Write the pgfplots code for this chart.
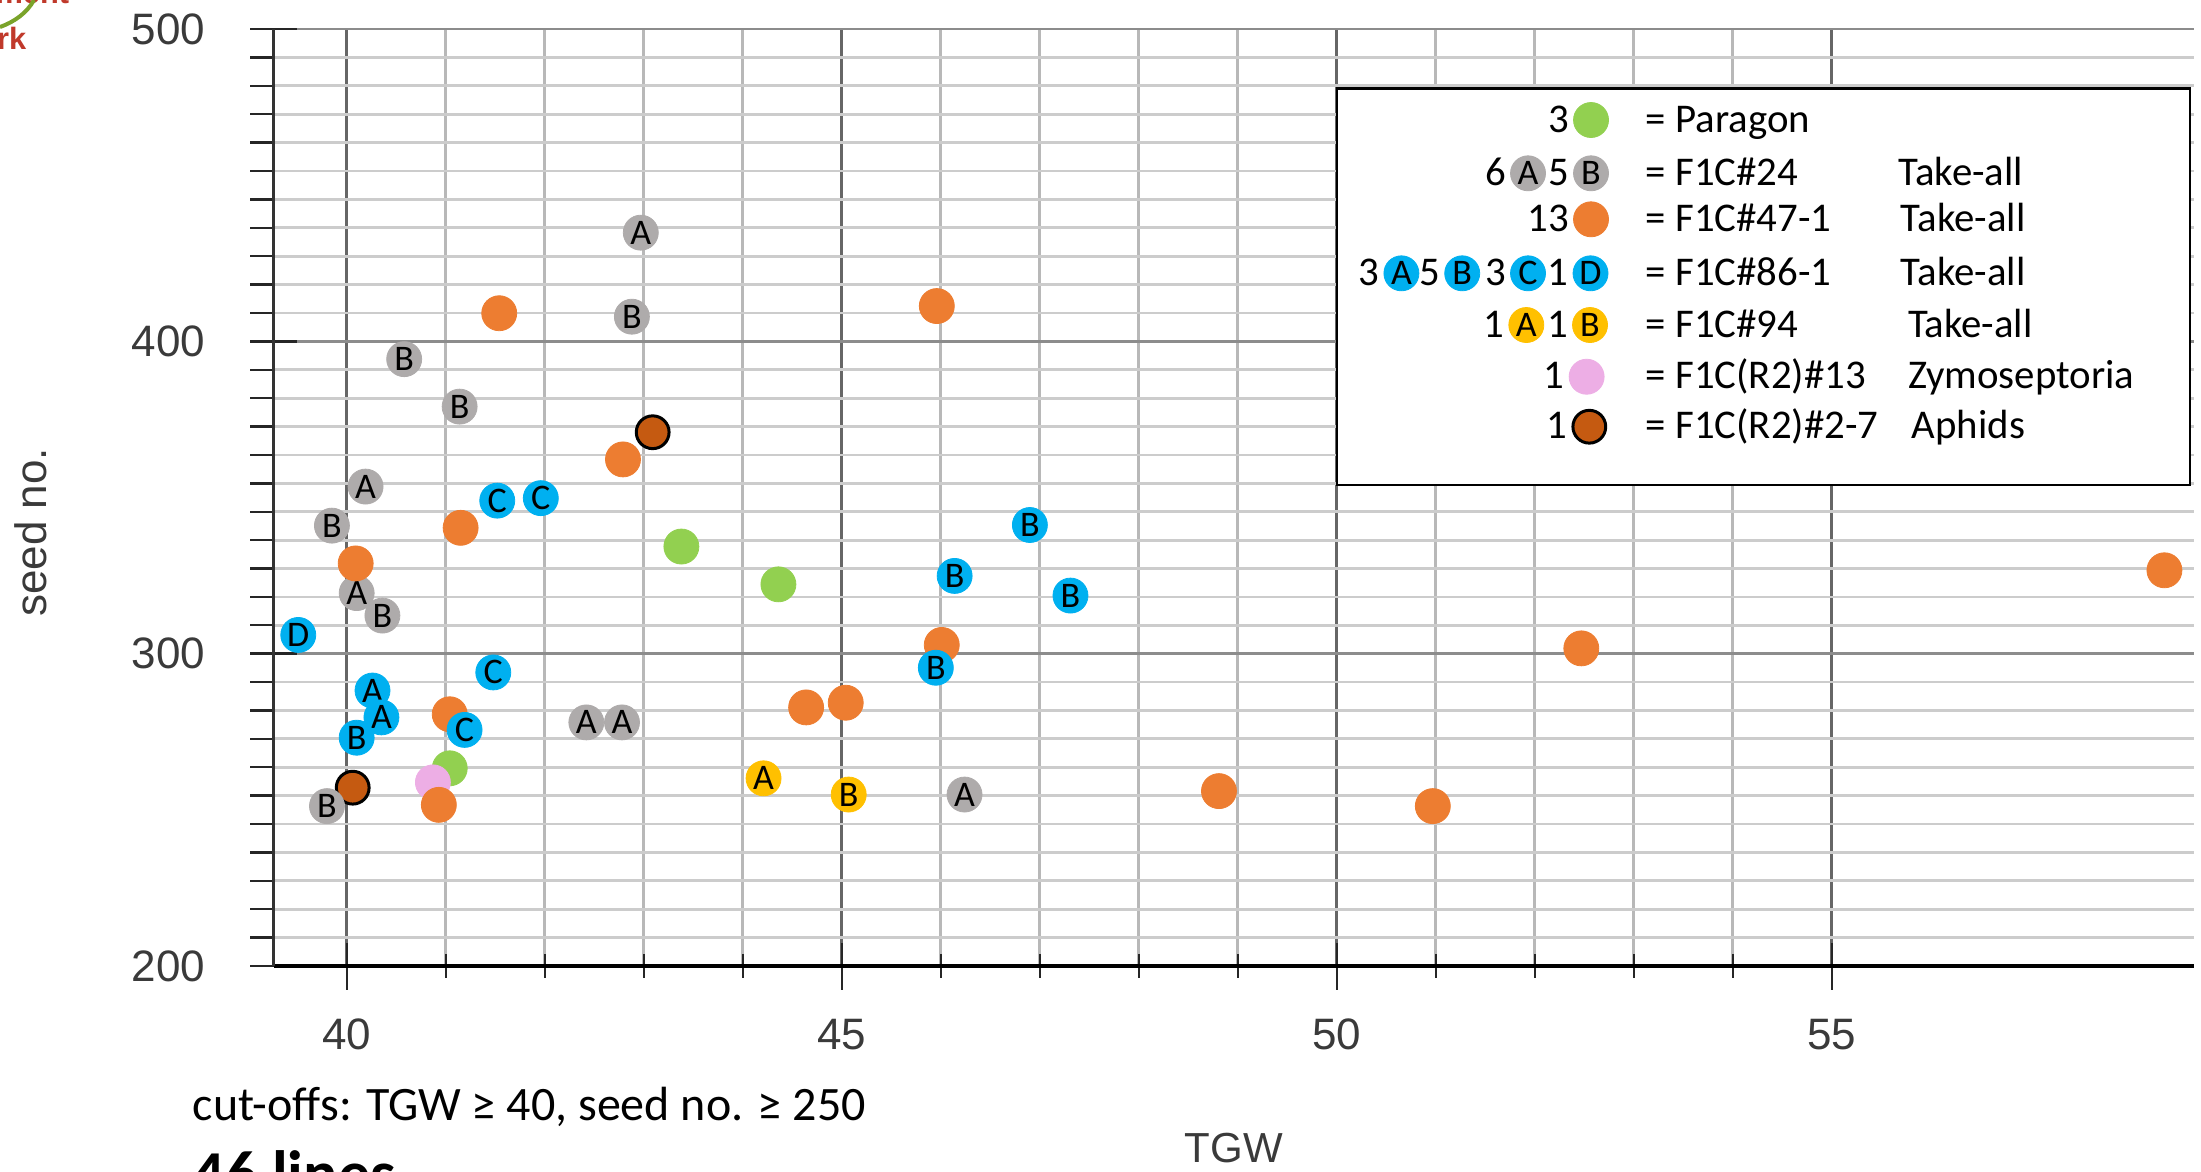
\documentclass[border=0pt]{standalone}
\usepackage{pgfplots}
\pgfplotsset{compat=1.18}
\usepackage{fontspec}
\setmainfont{Liberation Sans}
\newfontfamily\calibri{Carlito}
\definecolor{cgreen}{HTML}{92D050}
\definecolor{cgray}{HTML}{AEABAB}
\definecolor{corange}{HTML}{ED7D31}
\definecolor{cblue}{HTML}{00B0F0}
\definecolor{cyellow}{HTML}{FFC000}
\definecolor{cpink}{HTML}{EDAEE5}
\definecolor{cbrown}{HTML}{C55A11}
\definecolor{ticktext}{HTML}{3A3A3A}
\definecolor{logored}{HTML}{C0392B}
\definecolor{logogreen}{HTML}{7AA32A}
\pgfplotsset{
  dot/.style={only marks, mark=*, mark size=4.375pt,
    mark options={fill=#1, draw=#1, line width=0.2pt}},
  lett/.style={nodes near coords={\calibri\fontsize{9}{10}\selectfont #1},
    every node near coord/.append style={anchor=center, inner sep=0pt,
      font=\calibri\fontsize{9}{10}\selectfont, text=black}},
}
\begin{document}
\begin{tikzpicture}
\useasboundingbox (0,0) rectangle (550.25pt,292.75pt);
\begin{axis}[
  at={(68.425pt,51.25pt)}, anchor=south west,
  scale only axis, width=480.1pt, height=234.25pt,
  xmin=39.262, xmax=58.66, ymin=200, ymax=500,
  xtick={40,45,50,55}, ytick={200,300,400,500},
  minor x tick num=4, minor y tick num=10,
  axis x line*=bottom, axis y line*=left,
  x axis line style={black, line width=1pt},
  y axis line style={black!80, line width=0.8pt},
  tick align=center,
  major tick length=11.75pt, minor tick length=5.875pt,
  every tick/.append style={black!85, line width=0.6pt},
  minor y tick style={xshift=-2.94pt},
  xmajorgrids, xminorgrids, ymajorgrids, yminorgrids,
  major x grid style={color=black!60, line width=0.75pt},
  minor x grid style={color=black!28, line width=0.75pt},
  major y grid style={color=black!45, line width=0.6pt},
  minor y grid style={color=black!20, line width=0.7pt},
  /pgf/number format/assume math mode=true,
  xticklabel style={font=\fontsize{11}{13}\selectfont, text=ticktext, anchor=north, yshift=-3.85pt},
  yticklabel style={font=\fontsize{11}{13}\selectfont, text=ticktext, anchor=east, xshift=-7.7pt},
  xlabel={TGW}, ylabel={seed no.},
  every axis x label/.style={at={(axis description cs:0.5,-0.2102)}, anchor=base,
    font=\fontsize{10.5}{12}\selectfont, text=ticktext},
  every axis y label/.style={at={(axis description cs:-0.1182,0.463)}, rotate=90, anchor=base,
    font=\fontsize{11}{13}\selectfont, text=ticktext},
  clip=false,
]
% Paragon
\addplot[dot=cgreen] coordinates {(43.38,334.3) (44.36,322.2) (41.04,263.3)};
% F1C(R2)#13
\addplot[dot=cpink] coordinates {(40.87,258.8)};
% F1C(R2)#2-7
\addplot[only marks, mark=*, mark size=4.1pt, mark options={fill=cbrown, draw=black, line width=0.75pt}]
  coordinates {(43.09,370.9) (40.06,257.1)};
% F1C#24
\addplot[dot=cgray, lett=A] coordinates {(42.97,434.8) (40.19,353.5) (40.10,319.4) (42.42,278.0) (42.78,278.0) (46.24,254.9)};
\addplot[dot=cgray, lett=B] coordinates {(42.88,407.9) (40.58,394.3) (41.14,379.1) (39.85,341.0) (40.36,312.2) (39.80,251.2)};
% F1C#47-1
\addplot[dot=corange] coordinates {(41.54,409.0) (42.79,362.2) (41.15,340.3) (40.09,328.9) (41.04,280.6) (40.93,251.6) (44.64,282.8) (45.04,284.3) (45.96,411.3) (46.01,302.8) (48.81,256.0) (50.97,251.2) (52.47,301.7) (58.36,326.7)};
% F1C#86-1
\addplot[dot=cblue, lett=A] coordinates {(40.26,288.2) (40.35,279.6)};
\addplot[dot=cblue, lett=B] coordinates {(40.10,273.1) (46.90,341.2) (46.14,324.9) (47.31,318.6) (45.95,295.5)};
\addplot[dot=cblue, lett=C] coordinates {(41.52,349.0) (41.96,349.8) (41.48,294.0) (41.19,275.6)};
\addplot[dot=cblue, lett=D] coordinates {(39.51,306.0)};
% F1C#94
\addplot[dot=cyellow, lett=A] coordinates {(44.21,260.1)};
\addplot[dot=cyellow, lett=B] coordinates {(45.07,254.9)};
\end{axis}
% overlay in pixel units (origin top-left)
\begin{axis}[
  at={(0pt,0pt)}, anchor=south west,
  scale only axis, width=550.25pt, height=292.75pt,
  xmin=0, xmax=2201, ymin=0, ymax=1171, y dir=reverse,
  hide axis, clip=false,
]
\draw[black, line width=0.6pt, fill=white] (axis cs:1336.7,88.3) rectangle (axis cs:2190,485);
\addplot[dot=cgreen] coordinates {(1591,120)};
\addplot[dot=cgray, lett=A] coordinates {(1528,173.3)};
\addplot[dot=cgray, lett=B] coordinates {(1591,173.3)};
\addplot[dot=corange] coordinates {(1591,219.3)};
\addplot[dot=cblue, lett=A] coordinates {(1401.4,273.3)};
\addplot[dot=cblue, lett=B] coordinates {(1462.2,273.3)};
\addplot[dot=cblue, lett=C] coordinates {(1528,273.3)};
\addplot[dot=cblue, lett=D] coordinates {(1590.5,273.3)};
\addplot[dot=cyellow, lett=A] coordinates {(1526.3,325)};
\addplot[dot=cyellow, lett=B] coordinates {(1590,325)};
\addplot[dot=cpink] coordinates {(1586.6,376.7)};
\addplot[only marks, mark=*, mark size=4.1pt, mark options={fill=cbrown, draw=black, line width=0.75pt}]
  coordinates {(1589.3,426.7)};
\begin{scope}[every node/.style={inner sep=0pt, font=\calibri\fontsize{10.2}{12}\selectfont}]
\node[anchor=base east] at (axis cs:1569.5,132) {3};
\node[anchor=base east] at (axis cs:1506.5,185) {6};
\node[anchor=base east] at (axis cs:1569.5,185) {5};
\node[anchor=base east] at (axis cs:1569.5,231) {13};
\node[anchor=base east] at (axis cs:1379.9,285) {3};
\node[anchor=base east] at (axis cs:1440.7,285) {5};
\node[anchor=base east] at (axis cs:1506.5,285) {3};
\node[anchor=base east] at (axis cs:1569,285) {1};
\node[anchor=base east] at (axis cs:1504.8,337) {1};
\node[anchor=base east] at (axis cs:1568.5,337) {1};
\node[anchor=base east] at (axis cs:1565,388.5) {1};
\node[anchor=base east] at (axis cs:1567.8,438.5) {1};
\node[anchor=base west] at (axis cs:1645,132) {= Paragon};
\node[anchor=base west] at (axis cs:1645,185) {= F1C\#24};
\node[anchor=base west] at (axis cs:1645,231) {= F1C\#47-1};
\node[anchor=base west] at (axis cs:1645,285) {= F1C\#86-1};
\node[anchor=base west] at (axis cs:1645,337) {= F1C\#94};
\node[anchor=base west] at (axis cs:1645,388.5) {= F1C(R2)\#13};
\node[anchor=base west] at (axis cs:1645,438.5) {= F1C(R2)\#2-7};
\node[anchor=base west] at (axis cs:1897.8,185) {Take-all};
\node[anchor=base west] at (axis cs:1900,231) {Take-all};
\node[anchor=base west] at (axis cs:1900,285) {Take-all};
\node[anchor=base west] at (axis cs:1907.2,337) {Take-all};
\node[anchor=base west] at (axis cs:1907.2,388.5) {Zymoseptoria};
\node[anchor=base west] at (axis cs:1911,438.5) {Aphids};
\end{scope}
\node[anchor=base west, inner sep=0pt, font=\calibri\fontsize{12}{14}\selectfont] at (axis cs:192,1120) {cut-offs: TGW ≥ 40, seed no. ≥ 250};
\node[anchor=base west, inner sep=0pt, font=\calibri\bfseries\fontsize{16}{19}\selectfont] at (axis cs:192,1195) {46 lines};
% partial logo
\node[anchor=base east, inner sep=0pt, text=logored, font=\bfseries\fontsize{7.7}{9}\selectfont] at (axis cs:27,49) {Network};
\node[anchor=base east, inner sep=0pt, text=logored, font=\bfseries\fontsize{7.7}{9}\selectfont] at (axis cs:70,3) {Improvement};
\draw[logogreen, line width=1pt] (axis cs:0,27) .. controls (axis cs:14,22) and (axis cs:27,13) .. (axis cs:34,0);
\end{axis}
\end{tikzpicture}
\end{document}
